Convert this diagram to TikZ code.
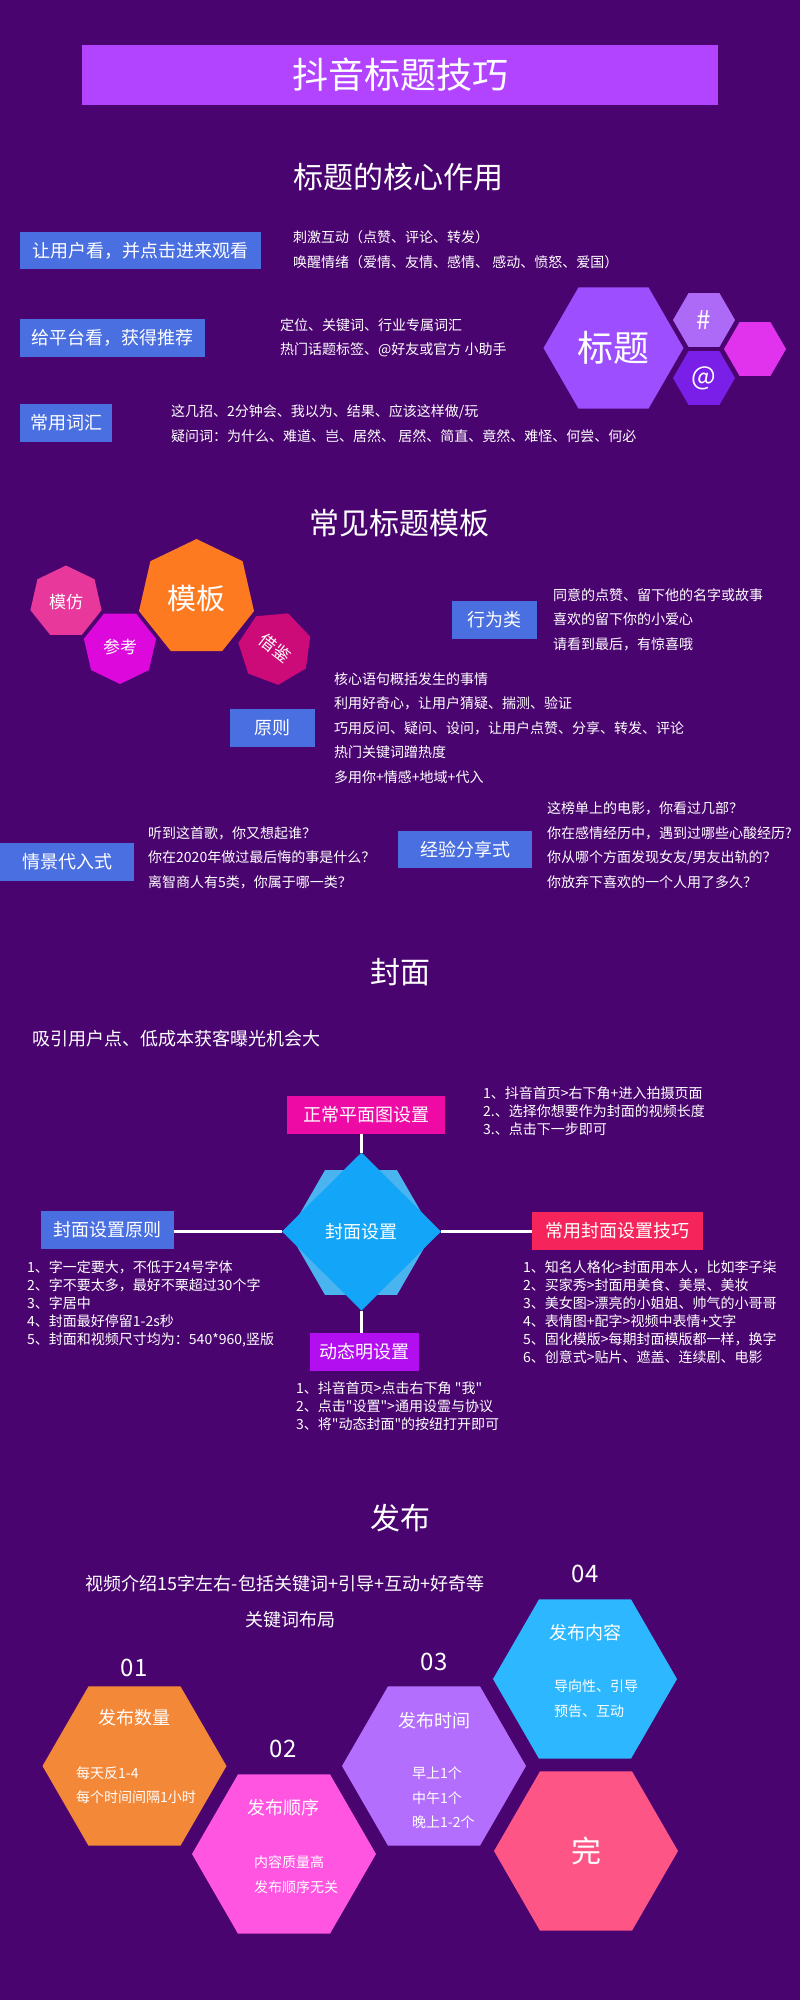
\documentclass[tikz,border=0pt]{standalone}
\usepackage{fontspec}
\setmainfont{Noto Sans CJK SC}
\newfontfamily\plaincjk{Noto Sans CJK SC}
\usetikzlibrary{shapes.geometric}
\definecolor{bg}{HTML}{4A0470}
\definecolor{titlebar}{HTML}{B244FF}
\definecolor{boxblue}{HTML}{4A6FE0}
\definecolor{hexbig}{HTML}{9D4EFF}
\definecolor{hexhash}{HTML}{AD6AF6}
\definecolor{hexat}{HTML}{7A1FE8}
\definecolor{hexmag}{HTML}{E133EE}
\definecolor{fangpink}{HTML}{E9389B}
\definecolor{kaomag}{HTML}{DD08DC}
\definecolor{banorange}{HTML}{FD7A21}
\definecolor{jianred}{HTML}{CC0B78}
\definecolor{flatpink}{HTML}{EE0BA5}
\definecolor{tipsred}{HTML}{F5245A}
\definecolor{dynpurple}{HTML}{B20EF0}
\definecolor{coverblue}{HTML}{12A5F8}
\definecolor{coverhex}{HTML}{4AB4F0}
\definecolor{pubone}{HTML}{F38839}
\definecolor{pubtwo}{HTML}{FF55E1}
\definecolor{pubthree}{HTML}{B46EFE}
\definecolor{pubfour}{HTML}{2DB7FE}
\definecolor{pubend}{HTML}{FE5587}
\tikzset{
  box/.style={fill=boxblue, text=white, inner sep=0pt, font=\fontsize{18}{20}\selectfont},
  txt/.style={text=white, anchor=west, align=left, inner sep=0pt, font=\fontsize{14}{24.5}\selectfont},
  small/.style={txt, font=\plaincjk\fontsize{14}{18}\selectfont},
  head/.style={text=white, inner sep=0pt, font=\fontsize{30}{34}\selectfont},
  hexa/.style={regular polygon, regular polygon sides=6, inner sep=0pt, text=white},
  hepta/.style={regular polygon, regular polygon sides=7, inner sep=0pt, text=white},
  link/.style={white, line width=3pt}
}
\begin{document}
\begin{tikzpicture}[x=1pt,y=-1pt]
\fill[bg] (0,0) rectangle (800,2000);
% title part
\node[fill=titlebar, text=white, inner sep=0pt, minimum width=636, minimum height=60, font=\fontsize{36}{40}\selectfont] (title) at (400,75) {抖音标题技巧};
\node[head] (core) at (398,177) {标题的核心作用};
\node[box, minimum width=241, minimum height=37] (watch) at (140.5,250.5) {让用户看，并点击进来观看};
\node[txt] (watchtxt) at (293,249.5) {刺激互动（点赞、评论、转发）\\唤醒情绪（爱情、友情、感情、 感动、愤怒、爱国）};
\node[box, minimum width=185, minimum height=38] (platform) at (112.5,338) {给平台看，获得推荐};
\node[txt] (platformtxt) at (280,338) {定位、关键词、行业专属词汇\\热门话题标签、@好友或官方 小助手};
\node[box, minimum width=92, minimum height=38] (words) at (66,423) {常用词汇};
\node[txt] (wordstxt) at (171,423.5) {这几招、2分钟会、我以为、结果、应该这样做/玩\\疑问词：为什么、难道、岂、居然、 居然、简直、竟然、难怪、何尝、何必};
\node[hexa, fill=hexbig, minimum size=140, font=\fontsize{36}{40}\selectfont] (titlehex) at (613.5,348) {标题};
\node[hexa, fill=hexhash, minimum size=62, font=\fontsize{26}{28}\selectfont] (hash) at (704,320) {\#};
\node[hexa, fill=hexat, minimum size=62, font=\fontsize{26}{28}\selectfont] (at) at (704,378) {@};
\node[hexa, fill=hexmag, minimum size=62] (maghex) at (755,349) {};
% templates
\node[head] (tpl) at (399,523) {常见标题模板};
\node[hepta, fill=fangpink, minimum size=73, font=\fontsize{17}{19}\selectfont] (fang) at (66,602) {模仿};
\node[hepta, fill=kaomag, minimum size=74, shape border rotate=180, font=\fontsize{17}{19}\selectfont] (kao) at (120,647) {参考};
\node[hepta, fill=banorange, minimum size=118, font=\fontsize{29}{31}\selectfont] (ban) at (196.5,598) {模板};
\node[hepta, fill=jianred, minimum size=74, shape border rotate=185] (jian) at (275,648) {};
\node[text=white, inner sep=0pt, rotate=-38, font=\fontsize{17}{19}\selectfont] (jiantxt) at (jian.center) {借鉴};
\node[box, minimum width=85, minimum height=38] (act) at (494.5,620) {行为类};
\node[txt] (acttxt) at (553,619.5) {同意的点赞、留下他的名字或故事\\喜欢的留下你的小爱心\\请看到最后，有惊喜哦};
\node[box, minimum width=85, minimum height=38] (rule) at (272.5,728) {原则};
\node[txt] (ruletxt) at (334,728) {核心语句概括发生的事情\\利用好奇心，让用户猜疑、揣测、验证\\巧用反问、疑问、设问，让用户点赞、分享、转发、评论\\热门关键词蹭热度\\多用你+情感+地域+代入};
\node[box, minimum width=134, minimum height=38] (scene) at (67,862) {情景代入式};
\node[txt] (scenetxt) at (148,857.5) {听到这首歌，你又想起谁？\\你在2020年做过最后悔的事是什么？\\离智商人有5类，你属于哪一类？};
\node[box, minimum width=134, minimum height=37] (share) at (465,849.5) {经验分享式};
\node[txt] (sharetxt) at (547,845) {这榜单上的电影，你看过几部？\\你在感情经历中，遇到过哪些心酸经历?\\你从哪个方面发现女友/男友出轨的？\\你放弃下喜欢的一个人用了多久？};
% cover
\node[head] (cover) at (400,972) {封面};
\node[txt, font=\fontsize{18}{20}\selectfont] (coverline) at (32,1039) {吸引用户点、低成本获客曝光机会大};
\node[hexa, fill=coverhex, minimum size=144] (coverbg) at (361,1232.5) {};
\node[diamond, fill=coverblue, text=white, inner sep=0pt, outer sep=0pt, minimum width=159, minimum height=158, font=\fontsize{18}{20}\selectfont] (set) at (361.5,1231.5) {封面设置};
\node[box, fill=flatpink, minimum width=158, minimum height=38] (flat) at (366,1115) {正常平面图设置};
\node[small] (flattxt) at (483,1111) {1、抖音首页>右下角+进入拍摄页面\\2.、选择你想要作为封面的视频长度\\3.、点击下一步即可};
\node[box, minimum width=133, minimum height=38] (principle) at (107.5,1230) {封面设置原则};
\node[small] (principletxt) at (27,1304) {1、字一定要大，不低于24号字体\\2、字不要太多，最好不栗超过30个字\\3、字居中\\4、封面最好停留1-2s秒\\5、封面和视频尺寸均为：540*960,竖版};
\node[box, fill=tipsred, minimum width=171, minimum height=38] (tips) at (617.5,1231) {常用封面设置技巧};
\node[small] (tipstxt) at (523,1312) {1、知名人格化>封面用本人，比如李子柒\\2、买家秀>封面用美食、美景、美妆\\3、美女图>漂亮的小姐姐、帅气的小哥哥\\4、表情图+配字>视频中表情+文字\\5、固化模版>每期封面模版都一样，换字\\6、创意式>贴片、遮盖、连续剧、电影};
\node[box, fill=dynpurple, minimum width=109, minimum height=38] (dyn) at (364.5,1352) {动态明设置};
\node[small] (dyntxt) at (296,1406) {1、抖音首页>点击右下角 "我"\\2、点击"设置">通用设霊与协议\\3、将"动态封面"的按纽打开即可};
\draw[link] (set.north) -- (set.north |- flat.south);
\draw[link] (set.west) -- (principle.east |- set.west);
\draw[link] (set.east) -- (tips.west |- set.east);
\draw[link] (set.south) -- (set.south |- dyn.north);
% publish
\node[head] (pub) at (400,1518.5) {发布};
\node[text=white, inner sep=0pt, font=\fontsize{18}{20}\selectfont] (intro) at (285,1584) {视频介绍15字左右-包括关键词+引导+互动+好奇等};
\node[text=white, inner sep=0pt, font=\fontsize{18}{20}\selectfont] (layout) at (290,1619.5) {关键词布局};
\node[hexa, fill=pubone, minimum size=184] (hexone) at (134.5,1766) {};
\node[hexa, fill=pubtwo, minimum size=184] (hextwo) at (284,1854) {};
\node[hexa, fill=pubthree, minimum size=184] (hexthree) at (434,1766) {};
\node[hexa, fill=pubfour, minimum size=184] (hexfour) at (585,1679) {};
\node[hexa, fill=pubend, minimum size=184, font=\fontsize{30}{34}\selectfont] (hexend) at (586,1851) {完};
\foreach \n/\x/\y in {01/134/1668, 02/283/1749, 03/434/1662, 04/585/1574}
  \node[text=white, inner sep=0pt, font=\fontsize{24}{26}\selectfont] (num\n) at (\x,\y) {\n};
\node[text=white, inner sep=0pt, font=\fontsize{18}{20}\selectfont] (countlbl) at (134,1718) {发布数量};
\node[txt] (counttxt) at (76,1785) {每天反1-4\\每个时间间隔1小时};
\node[text=white, inner sep=0pt, font=\fontsize{18}{20}\selectfont] (orderlbl) at (283,1808) {发布顺序};
\node[txt] (ordertxt) at (254,1874.5) {内容质量高\\发布顺序无关};
\node[text=white, inner sep=0pt, font=\fontsize{18}{20}\selectfont] (timelbl) at (434,1721) {发布时间};
\node[txt] (timetxt) at (412,1798) {早上1个\\中午1个\\晚上1-2个};
\node[text=white, inner sep=0pt, font=\fontsize{18}{20}\selectfont] (contentlbl) at (585,1633) {发布内容};
\node[txt] (contenttxt) at (554,1698.5) {导向性、引导\\预告、互动};
\end{tikzpicture}
\end{document}
